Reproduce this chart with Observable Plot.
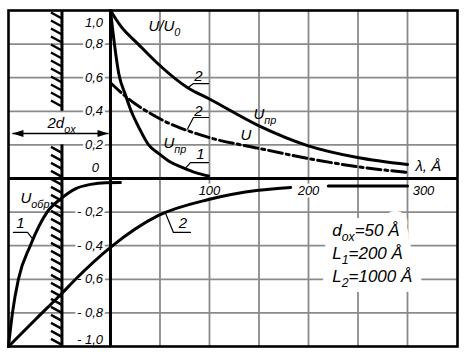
<!DOCTYPE html>
<html><head><meta charset="utf-8">
<script src="https://cdn.jsdelivr.net/npm/d3@7"></script>
<script src="https://cdn.jsdelivr.net/npm/@observablehq/plot@0.6"></script>
<style>
html,body{margin:0;padding:0;background:#fff;}
#chart svg{display:block;}
</style></head><body><div id="chart"></div>
<script>
// ---- data (λ in Å, value U/U0) ----
const lamPr2 = [0, 10, 28, 48.5, 78, 99, 149.5, 199, 249.5, 300];
const uPr2   = [1.0, 0.91, 0.80, 0.68, 0.54, 0.476, 0.315, 0.196, 0.125, 0.083];

const lamPr1 = [0, 4, 8.5, 15, 21, 29, 38.5, 48.5, 60, 73, 86, 99];
const uPr1   = [1.0, 0.80, 0.62, 0.50, 0.40, 0.30, 0.20, 0.15, 0.10, 0.065, 0.035, 0.015];

const lamU = [0, 17, 48.5, 99, 149.5, 199, 249.5, 300];
const uU   = [0.57, 0.48, 0.36, 0.245, 0.18, 0.12, 0.07, 0.036];

const lamObr1 = [-103, -99, -93, -81, -64, -50, -35, -20, -5, 10];
const uObr1   = [-1.0, -0.80, -0.60, -0.40, -0.20, -0.12, -0.06, -0.035, -0.025, -0.024];

const lamObr2 = [-103, -75, -48.5, -37, 0, 48.5, 99, 149.5, 182, 201, 220, 300];
const uObr2   = [-1.0, -0.835, -0.68, -0.61, -0.41, -0.22, -0.125, -0.07, -0.053, NaN, -0.045, -0.045];

const xGrid = [50, 100, 150, 200, 250, 300];
const yGrid = [0.8, 0.6, 0.4, 0.2, -0.2, -0.4, -0.6, -0.8];
const yTickVals = [1.0, 0.8, 0.6, 0.4, 0.2, 0, -0.2, -0.4, -0.6, -0.8, -1.0];
const yTickLabels = ["1,0", "0,8", "0,6", "0,4", "0,2", "0", "- 0,2", "- 0,4", "- 0,6", "- 0,8", "- 1,0"];
const xTickVals = [100, 200, 300];
const xTickLabels = ["100", "200", "300"];

const wallX = -49;                 // oxide boundary (−d_ox)
const wallUpper = [0.4, 1.0];
const wallLower = [-1.0, 0.2];

const numLabels = [
  {x: 88.9, y: 0.607, text: "2"},
  {x: 88.9, y: 0.399, text: "2"},
  {x: 90.9, y: 0.143, text: "1"},
  {x: 73.2, y: -0.265, text: "2"},
  {x: -90.9, y: -0.268, text: "1"}
];
const nameLabels = [
  {x: 38.4, y: 0.905, text: "U/U_{0}"},
  {x: 144.4, y: 0.38, text: "U_{пр}"},
  {x: 53.5, y: 0.208, text: "U_{пр}"},
  {x: 131.3, y: 0.256, text: "U"},
  {x: 308, y: 0.071, text: "λ, Å"},
  {x: -63.6, y: 0.327, text: "2d_{ox}"},
  {x: -90.9, y: -0.119, text: "U_{обр}"}
];
const leaders = [
  [[78, 0.54], [83.8, 0.565], [99, 0.565]],
  [[77.8, 0.295], [83.8, 0.363], [99, 0.363]],
  [[75.8, 0.062], [80.8, 0.095], [99, 0.095]],
  [[-77.8, -0.366], [-83.8, -0.321], [-98, -0.321]],
  [[55.6, -0.207], [63.6, -0.321], [80.8, -0.321]]
];
const paramLines = ["d_{ox}=50 Å", "L_{1}=200 Å", "L_{2}=1000 Å"];
const paramAnchor = {x: 224, y: -0.31};
const arrowSpan = {x1: -99, x2: -2, y: 0.268};

// ---- layout ----
const W = 464, H = 356;
const mL = 8, mR = 7, mT = 10, mB = 10;
const xDomain = [-103, 350.5];
const pxX = (W - mL - mR) / (xDomain[1] - xDomain[0]);
const pxY = (H - mT - mB) / 2;
const FONT = "'Liberation Sans', Arial, sans-serif";
const GRID = "#8a8a8a";

const rows = (xs, ys) => xs.map((x, i) => ({x, y: ys[i]}));
const hatch = [
  ...d3.range(wallUpper[1] - 2 / pxY, wallUpper[0] + 4 / pxY, -8 / pxY),
  ...d3.range(wallLower[1] - 2 / pxY, wallLower[0] + 4 / pxY, -8 / pxY)
];
const leaderRows = leaders.flatMap((pts, k) => pts.map(([x, y]) => ({x, y, k})));

const triRight = {draw(c) { c.moveTo(0, 0); c.lineTo(-11, -3.5); c.lineTo(-11, 3.5); c.closePath(); }};
const triLeft  = {draw(c) { c.moveTo(0, 0); c.lineTo(11, -3.5); c.lineTo(11, 3.5); c.closePath(); }};

// text with a white knock-out halo drawn as a separate layer underneath
function haloText(data, opts, hw = 5) {
  return [
    Plot.text(data, {...opts, fill: "white", stroke: "white", strokeWidth: hw, strokeLinejoin: "round", fontStyle: "italic"}),
    Plot.text(data, {...opts, fill: "black", fontStyle: "italic"})
  ];
}

const ticks = yTickVals.map((v, i) => ({v, t: yTickLabels[i]}));
const xt = xTickVals.map((v, i) => ({v, t: xTickLabels[i]}));

const chart = Plot.plot({
  width: W, height: H,
  marginLeft: mL, marginRight: mR, marginTop: mT, marginBottom: mB,
  style: {fontFamily: FONT, background: "white"},
  x: {domain: xDomain, axis: null},
  y: {domain: [-1, 1], axis: null},
  marks: [
    Plot.ruleX(xGrid, {stroke: GRID, strokeWidth: 1.8}),
    Plot.ruleY(yGrid, {stroke: GRID, strokeWidth: 1.8}),
    // tick labels
    ...haloText(ticks.filter(d => Math.abs(d.v) < 1 && d.v !== 0), {x: -7.5, y: "v", text: "t", textAnchor: "end", fontSize: 13}),
    ...haloText(ticks.filter(d => d.v === 1), {x: -7.5, y: "v", text: "t", textAnchor: "end", dy: 12, fontSize: 13}),
    ...haloText(ticks.filter(d => d.v === -1), {x: -7.5, y: "v", text: "t", textAnchor: "end", dy: -7, fontSize: 13}),
    ...haloText(ticks.filter(d => d.v === 0), {x: -11.5, y: "v", text: "t", textAnchor: "end", dy: -11, fontSize: 13}),
    ...haloText(xt.slice(0, 2), {x: "v", y: 0, text: "t", dy: 12, fontSize: 13}),
    ...haloText(xt.slice(2), {x: "v", y: 0, text: "t", dy: 12, dx: 16, fontSize: 13}),
    // parameter block
    ...haloText(paramLines, {x: paramAnchor.x, y: (d, i) => paramAnchor.y - i * 23 / pxY, text: d => d, textAnchor: "start", fontSize: 17}, 20),
    // frame, axes, wall
    Plot.frame({stroke: "black", strokeWidth: 2.6}),
    Plot.ruleY([0], {stroke: "black", strokeWidth: 3}),
    Plot.ruleX([0], {stroke: "black", strokeWidth: 3}),
    Plot.ruleX([wallX], {y1: wallUpper[0], y2: wallUpper[1], stroke: "black", strokeWidth: 3}),
    Plot.ruleX([wallX], {y1: wallLower[0], y2: wallLower[1], stroke: "black", strokeWidth: 3}),
    Plot.link(hatch, {x1: wallX - 11 / pxX, y1: d => d, x2: wallX, y2: d => d - 6 / pxY, stroke: "black", strokeWidth: 2.4}),
    // 2d_ox dimension arrow
    Plot.link([arrowSpan], {x1: "x1", x2: "x2", y1: "y", y2: "y", stroke: "black", strokeWidth: 1.3}),
    Plot.dot([arrowSpan], {x: "x2", y: "y", symbol: triRight, fill: "black", stroke: "none"}),
    Plot.dot([arrowSpan], {x: "x1", y: "y", symbol: triLeft, fill: "black", stroke: "none"}),
    // curves
    Plot.line(rows(lamPr2, uPr2), {x: "x", y: "y", curve: "monotone-x", stroke: "black", strokeWidth: 3}),
    Plot.line(rows(lamPr1, uPr1), {x: "x", y: "y", curve: "monotone-x", stroke: "black", strokeWidth: 3}),
    Plot.line(rows(lamU, uU), {x: "x", y: "y", curve: "monotone-x", stroke: "black", strokeWidth: 3, strokeDasharray: "14 4 3 4"}),
    Plot.line(rows(lamObr1, uObr1), {x: "x", y: "y", curve: "monotone-x", stroke: "black", strokeWidth: 3}),
    Plot.line(rows(lamObr2, uObr2), {x: "x", y: "y", curve: "monotone-x", stroke: "black", strokeWidth: 3}),
    // leaders & labels
    Plot.line(leaderRows, {x: "x", y: "y", z: "k", stroke: "black", strokeWidth: 1.2}),
    Plot.text(numLabels, {x: "x", y: "y", text: "text", fontSize: 15, fill: "black", fontStyle: "italic"}),
    Plot.text(nameLabels, {x: "x", y: "y", text: "text", textAnchor: "start", fontSize: 15, fill: "black", fontStyle: "italic"})
  ]
});

// subscripts: "_{...}"
d3.select(chart).selectAll("text").each(function() {
  const s = this.textContent;
  if (!s.includes("_{")) return;
  const fs = parseFloat(this.getAttribute("font-size") || (this.parentNode && this.parentNode.getAttribute("font-size"))) || 15;
  const sh = fs * 0.3;
  this.textContent = "";
  const re = /_\{([^}]*)\}/g;
  let last = 0, m, shifted = false;
  const add = (str, sub) => {
    if (!str) return;
    const t = document.createElementNS("http://www.w3.org/2000/svg", "tspan");
    t.textContent = str;
    if (sub) { t.setAttribute("dy", sh); t.setAttribute("font-size", fs * 0.72); shifted = true; }
    else if (shifted) { t.setAttribute("dy", -sh); shifted = false; }
    this.appendChild(t);
  };
  while ((m = re.exec(s))) { add(s.slice(last, m.index), false); add(m[1], true); last = re.lastIndex; }
  add(s.slice(last), false);
});

document.getElementById("chart").appendChild(chart);
</script></body></html>
